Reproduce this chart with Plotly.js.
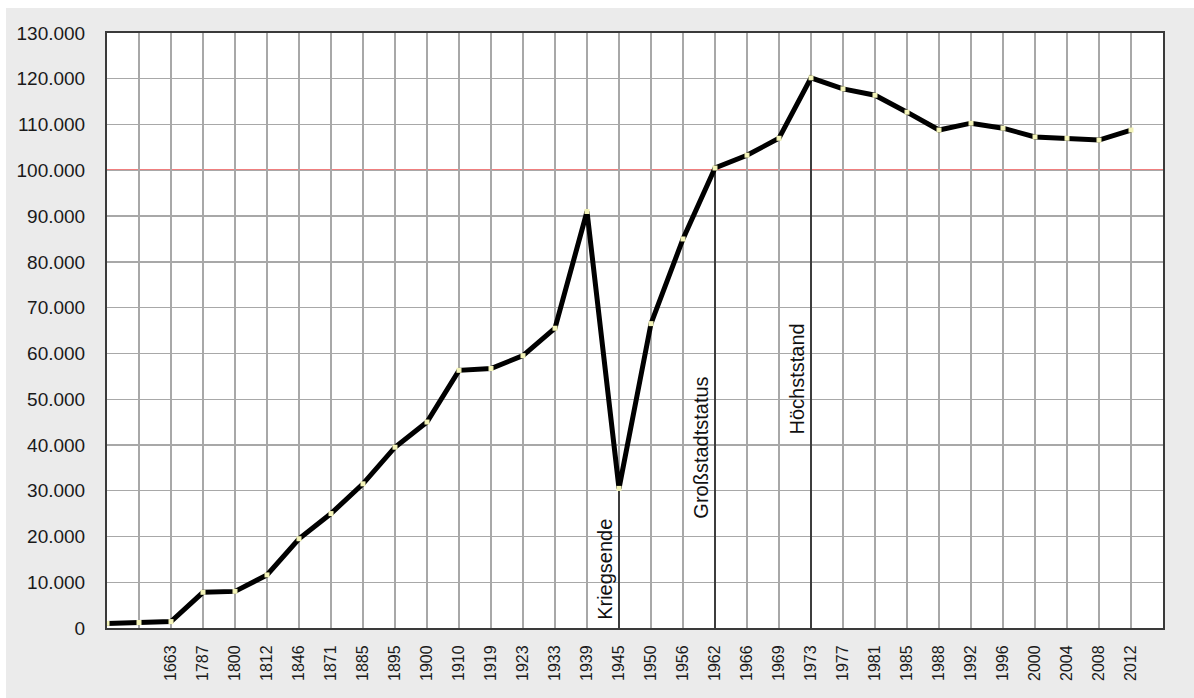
<!DOCTYPE html>
<html>
<head>
<meta charset="utf-8">
<script src="https://cdn.plot.ly/plotly-3.0.1.min.js"></script>
<style>
  html, body { margin: 0; padding: 0; background: #ffffff; }
  #chart { position: absolute; left: 6px; top: 8px; width: 1188px; height: 690px; }
</style>
</head>
<body>
<div id="chart"></div>
<script>
// Category labels (first two categories are unlabelled, last one is empty)
const categories = ["", "", "1663", "1787", "1800", "1812", "1846", "1871", "1885", "1895", "1900",
  "1910", "1919", "1923", "1933", "1939", "1945", "1950", "1956", "1962", "1966",
  "1969", "1973", "1977", "1981", "1985", "1988", "1992", "1996", "2000", "2004",
  "2008", "2012", ""];

// Population values
const population = [1000, 1200, 1400, 7800, 8000, 11600, 19500, 25000, 31500, 39500, 45000,
  56300, 56700, 59500, 65500, 91000, 30500, 66500, 85000, 100500, 103300,
  107000, 120200, 117800, 116400, 112700, 108800, 110300, 109200, 107300, 107000,
  106600, 108800];

// Y tick values and labels
const yTickVals = [0, 10000, 20000, 30000, 40000, 50000, 60000, 70000, 80000, 90000, 100000, 110000, 120000, 130000];
const yTickText = ["0", "10.000", "20.000", "30.000", "40.000", "50.000", "60.000", "70.000", "80.000", "90.000", "100.000", "110.000", "120.000", "130.000"];

// Reference line (Großstadt threshold)
const thresholdValue = 100000;

// Event markers: category labels, annotation text, label mid-height value
const eventYears = ["1945", "1962", "1973"];
const eventTexts = ["Kriegsende", "Großstadtstatus", "Höchststand"];
const eventLabelY = [12700, 39400, 54300];
const eventFonts = ['Liberation Sans Narrow, Liberation Sans, Arial, sans-serif',
  'Liberation Sans, Arial, sans-serif', 'Liberation Sans, Arial, sans-serif'];
const eventFontSizes = [20, 20, 20];

const idx = categories.map((c, i) => i);
const xs = population.map((v, i) => i);

const trace = {
  x: xs,
  y: population,
  type: 'scatter',
  mode: 'lines+markers',
  line: { color: '#000000', width: 5 },
  marker: { symbol: 'square', size: 5, color: '#f3f3b8' },
  hoverinfo: 'skip',
  showlegend: false
};

const shapes = [];
// red horizontal reference line
shapes.push({
  type: 'line', xref: 'paper', x0: 0, x1: 1, yref: 'y', y0: thresholdValue, y1: thresholdValue,
  line: { color: '#e00000', width: 1.6 }, layer: 'between'
});
// drop lines from event points
const annotations = [];
eventYears.forEach((yr, k) => {
  const i = categories.indexOf(yr);
  shapes.push({
    type: 'line', xref: 'x', yref: 'y', x0: i, x1: i, y0: 0, y1: population[i],
    line: { color: '#222222', width: 1.6 }, layer: 'between'
  });
  annotations.push({
    x: i, y: eventLabelY[k], xref: 'x', yref: 'y',
    text: eventTexts[k], showarrow: false, textangle: -90,
    xanchor: 'center', yanchor: 'middle', xshift: -14,
    font: { family: eventFonts[k], size: eventFontSizes[k], color: '#111111' }
  });
});

const tickIdx = idx.slice(1, categories.length - 1);
const tickTxt = tickIdx.map(i => categories[i]);

const layout = {
  width: 1188,
  height: 690,
  margin: { l: 101, r: 31, t: 25, b: 70, pad: 0 },
  paper_bgcolor: '#ebebeb',
  plot_bgcolor: '#ffffff',
  font: { family: 'Liberation Sans, Arial, sans-serif', color: '#1a1a1a' },
  xaxis: {
    range: [0, categories.length - 1],
    tickmode: 'array',
    tickvals: tickIdx,
    ticktext: tickTxt,
    tickangle: -90,
    tickfont: { size: 16, color: '#1a1a1a' },
    ticks: 'outside', ticklen: 9, tickcolor: 'rgba(0,0,0,0)',
    showgrid: true, gridcolor: '#a8a8a8', gridwidth: 1.3,
    showline: true, linecolor: '#3a3a3a', linewidth: 2, mirror: true,
    zeroline: false, fixedrange: true
  },
  yaxis: {
    range: [0, 130000],
    tickmode: 'array',
    tickvals: yTickVals,
    ticktext: yTickText,
    tickfont: { size: 19, color: '#1a1a1a' },
    ticks: 'outside', ticklen: 16, tickcolor: 'rgba(0,0,0,0)',
    showgrid: true, gridcolor: '#a8a8a8', gridwidth: 1.3,
    showline: true, linecolor: '#3a3a3a', linewidth: 2, mirror: true,
    zeroline: false, fixedrange: true
  },
  shapes: shapes,
  annotations: annotations
};

Plotly.newPlot('chart', [trace], layout, { displayModeBar: false, staticPlot: true });
</script>
</body>
</html>
